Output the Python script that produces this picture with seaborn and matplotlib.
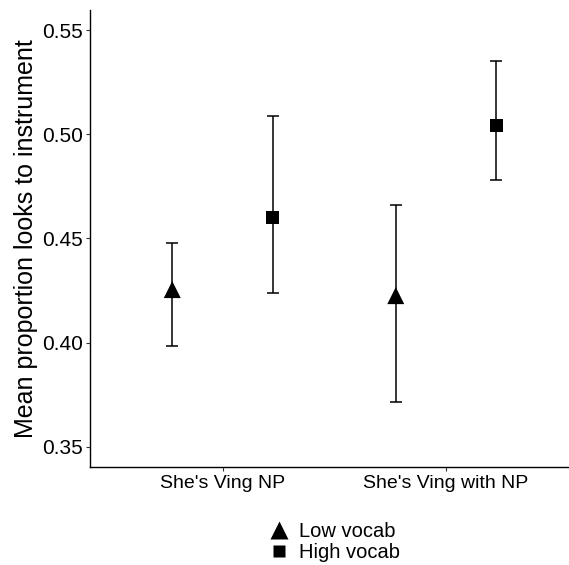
import matplotlib
matplotlib.use("Agg")
import numpy as np
import pandas as pd
import matplotlib.pyplot as plt
import seaborn as sns

# data
conditions = ["She's Ving NP", "She's Ving with NP"]
groups = ["Low vocab", "High vocab"]
low_mean = [0.4255, 0.4226]
low_lo = [0.3983, 0.3716]
low_hi = [0.4480, 0.4659]
high_mean = [0.4601, 0.5043]
high_lo = [0.4240, 0.4779]
high_hi = [0.5088, 0.5352]

sns.set_theme(style="ticks")
plt.rcParams['font.family'] = ['Liberation Sans', 'DejaVu Sans']
plt.rcParams['text.color'] = 'black'
plt.rcParams['axes.labelcolor'] = 'black'
plt.rcParams['xtick.labelcolor'] = 'black'
plt.rcParams['ytick.labelcolor'] = 'black'

# long table, dodge the two groups around each condition
dodge = {"Low vocab": -0.225, "High vocab": 0.225}
rows = []
for g, m, lo, hi in [("Low vocab", low_mean, low_lo, low_hi),
                     ("High vocab", high_mean, high_lo, high_hi)]:
    for i, c in enumerate(conditions):
        rows.append({'condition': c, 'vocab': g, 'xpos': i + dodge[g],
                     'mean': m[i], 'lo': lo[i], 'hi': hi[i]})
df = pd.DataFrame(rows)

fig = plt.figure(figsize=(5.69, 5.65), dpi=100)
ax = fig.add_axes([90 / 569, 1 - 467 / 565, 1 - 90 / 569, (467 - 10) / 565])

# error bars first, points on top
ax.errorbar(df['xpos'], df['mean'],
            yerr=[df['mean'] - df['lo'], df['hi'] - df['mean']],
            fmt='none', ecolor='black', elinewidth=1.1, capsize=4.3,
            capthick=1.1, zorder=2)

sns.scatterplot(data=df, x='xpos', y='mean', style='vocab', size='vocab',
                markers={"Low vocab": "^", "High vocab": "s"},
                sizes={"Low vocab": 150, "High vocab": 85},
                style_order=groups, size_order=groups,
                color='black', edgecolor='none', ax=ax, zorder=3)

ax.set_xlim(-0.593, 1.55)
ax.set_ylim(0.3404, 0.5596)
ax.set_xticks(range(len(conditions)))
ax.set_xticklabels(conditions)
ax.set_yticks([0.35, 0.40, 0.45, 0.50, 0.55])
ax.set_yticklabels([f"{v:.2f}" for v in [0.35, 0.40, 0.45, 0.50, 0.55]])
ax.tick_params(axis='y', labelsize=15, length=3, width=0.8, color='#333333', pad=2)
ax.tick_params(axis='x', labelsize=14, length=3, width=0.8, color='#333333', pad=3)
ax.set_xlabel('')
ax.set_ylabel('Mean proportion looks to instrument', fontsize=18, labelpad=3)
sns.despine(ax=ax)
for s in ['left', 'bottom']:
    ax.spines[s].set_linewidth(1.0)
    ax.spines[s].set_color('black')

sns.move_legend(ax, 'center', bbox_to_anchor=(329 / 569, 1 - 542 / 565),
                bbox_transform=fig.transFigure, title=None, frameon=False,
                fontsize=14.5, handletextpad=0.0, labelspacing=0.1,
                markerscale=1.0, labelcolor='black')

fig.savefig('out.png', dpi=100)
